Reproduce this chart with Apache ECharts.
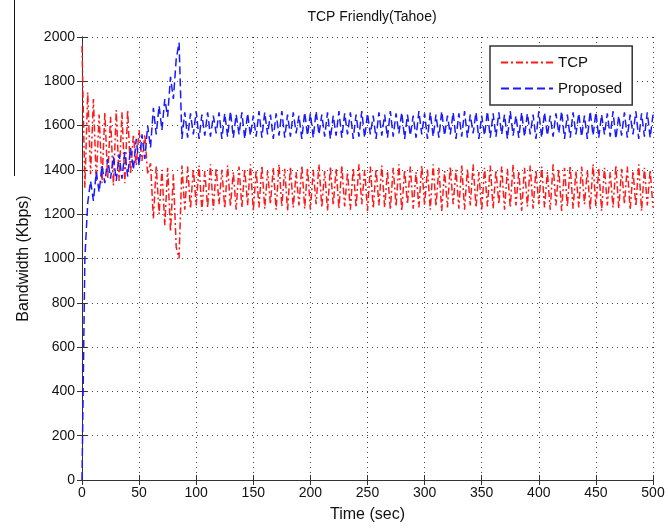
<!DOCTYPE html>
<html>
<head>
<meta charset="utf-8">
<script src="https://cdn.jsdelivr.net/npm/echarts@6/dist/echarts.min.js"></script>
<style>
html,body{margin:0;padding:0;background:#fff;}
#chart{width:668px;height:528px;}
</style>
</head>
<body>
<div id="chart"></div>
<script>
// ---- data (sampled every timeStep seconds from t = 0) ----
const chartTitle = "TCP Friendly(Tahoe)";
const seriesNames = ["TCP", "Proposed"];
const timeStep = 2.5;
const xTicks = [0, 50, 100, 150, 200, 250, 300, 350, 400, 450, 500];
const yTicks = [0, 200, 400, 600, 800, 1000, 1200, 1400, 1600, 1800, 2000];

const tcpValues = [
  1960,1320,1750,1380,1720,1350,1650,1340,1660,1360,1640,1330,1670,1350,1660,1340,1670,1380,1560,1420,
  1580,1440,1560,1380,1430,1180,1420,1200,1400,1150,1410,1120,1380,1050,1000,1420,1220,
  1415,1225,1405,1240,1420,1215,1395,1230,1425,1220,1410,1245,1400,1225,1420,1235,1390,1220,1415,1230,
  1405,1240,1425,1215,1400,1230,1420,1225,1395,1245,1410,1220,1425,1235,1405,1215,1415,1230,1390,1240,
  1420,1225,1410,1220,1400,1245,1425,1230,1395,1215,1415,1240,1405,1225,1420,1235,1390,1220,1410,1230,
  1425,1245,1400,1215,1415,1225,1405,1240,1420,1230,1395,1220,1410,1235,1425,1215,1400,1245,1415,1225,
  1390,1230,1420,1240,1405,1220,1425,1235,1410,1215,1395,1230,1415,1245,1400,1225,1420,1220,1405,1240,
  1425,1230,1390,1215,1410,1235,1420,1225,1400,1245,1415,1220,1405,1230,1425,1240,1395,1215,1410,1235,
  1420,1225,1400,1245,1415,1230,1390,1220,1425,1240,1405,1215,1410,1235,1420,1225,1395,1230,1415,1245,
  1400,1220,1425,1235,1405,1215,1410,1240,1390,1230,1420,1225,1405,1245,
  1415,1220,1395,1235,1425,1215,1410,1240,1400,1230
];

const proposedValues = [
  0,1000,1250,1350,1260,1390,1300,1420,1340,1450,1360,1460,1350,1470,1360,1480,1370,1500,1400,1540,
  1420,1560,1450,1600,1500,1680,1560,1690,1580,1720,1640,1820,1720,1900,1975,1540,1660,
  1545,1655,1560,1665,1540,1650,1555,1660,1550,1645,1565,1660,1540,1655,1550,1665,1545,1650,1560,1660,
  1540,1655,1555,1645,1550,1665,1545,1660,1560,1650,1540,1655,1555,1665,1545,1650,1550,1660,1565,1645,
  1540,1660,1555,1655,1545,1665,1560,1650,1550,1660,1540,1645,1555,1665,1545,1655,1560,1660,1540,1650,
  1550,1665,1545,1655,1560,1645,1540,1660,1555,1650,1545,1665,1550,1655,1565,1660,1540,1650,1555,1645,
  1545,1665,1560,1655,1540,1660,1550,1650,1545,1665,1555,1645,1560,1660,1540,1655,1550,1665,1545,1650,
  1565,1660,1540,1645,1555,1665,1545,1655,1550,1660,1560,1650,1540,1665,1555,1645,1545,1660,1550,1655,
  1560,1650,1540,1665,1545,1660,1555,1645,1550,1655,1565,1665,1540,1650,1545,1660,1560,1655,1550,1645,
  1540,1665,1555,1660,1545,1650,1560,1655,1550,1665,1540,1645,1555,1660,
  1545,1650,1560,1665,1540,1655,1550,1660,1545,1650
];

// ---- chart ----
const toPairs = vals => vals.map((v, i) => [i * timeStep, v]);
const font = "'Liberation Sans', Arial, sans-serif";
const chart = echarts.init(document.getElementById('chart'), null, {renderer: 'canvas'});

const gridLine = {show: true, lineStyle: {color: '#444', width: 1, type: [1, 4]}};
const axLine = {show: true, lineStyle: {color: '#333', width: 1}};
const tickIn = {show: true, inside: true, length: 5, lineStyle: {color: '#333'}};

chart.setOption({
  animation: false,
  backgroundColor: '#fff',
  title: {
    text: chartTitle, left: 367, top: 5, textAlign: 'center',
    textStyle: {fontFamily: font, fontSize: 14, fontWeight: 'normal', color: '#111'}
  },
  grid: {left: 82, right: 15, top: 37, bottom: 47, containLabel: false},
  legend: {
    data: seriesNames,
    orient: 'vertical',
    left: 490, top: 46,
    padding: [9, 10, 9, 10],
    itemGap: 11,
    itemWidth: 52, itemHeight: 14,
    backgroundColor: '#fff',
    borderColor: '#333', borderWidth: 1.5,
    itemStyle: {opacity: 0},
    textStyle: {fontFamily: font, fontSize: 15, color: '#111'}
  },
  xAxis: [{
    type: 'value', min: 0, max: 500, interval: 50,
    name: 'Time (sec)', nameLocation: 'middle', nameGap: 27,
    nameTextStyle: {fontFamily: font, fontSize: 16, color: '#111'},
    axisLabel: {fontFamily: font, fontSize: 14, color: '#111', margin: 6,
      formatter: v => xTicks.includes(v) ? String(v) : ''},
    axisLine: axLine, axisTick: tickIn, splitLine: gridLine
  }, {
    type: 'value', min: 0, max: 500, interval: 50, position: 'top',
    axisLabel: {show: false}, axisLine: axLine, axisTick: tickIn, splitLine: {show: false}
  }],
  yAxis: [{
    type: 'value', min: 0, max: 2000, interval: 200,
    name: 'Bandwidth (Kbps)', nameLocation: 'middle', nameGap: 50,
    nameTextStyle: {fontFamily: font, fontSize: 16, color: '#111'},
    axisLabel: {fontFamily: font, fontSize: 14, color: '#111', margin: 7,
      formatter: v => yTicks.includes(v) ? String(v) : ''},
    axisLine: axLine, axisTick: tickIn, splitLine: gridLine
  }, {
    type: 'value', min: 0, max: 2000, interval: 200, position: 'right',
    axisLabel: {show: false}, axisLine: axLine, axisTick: tickIn, splitLine: {show: false}
  }],
  graphic: [{
    type: 'line', shape: {x1: 14.5, y1: 0, x2: 14.5, y2: 176},
    style: {stroke: '#111', lineWidth: 1}
  }],
  series: [{
    name: seriesNames[0], type: 'line', data: toPairs(tcpValues),
    showSymbol: false, symbol: 'none',
    lineStyle: {color: '#ff1a1a', width: 1.5, type: [7, 3, 2, 3]},
    itemStyle: {color: '#ff1a1a'}
  }, {
    name: seriesNames[1], type: 'line', data: toPairs(proposedValues),
    showSymbol: false, symbol: 'none',
    lineStyle: {color: '#1a1aff', width: 1.5, type: [8, 4]},
    itemStyle: {color: '#1a1aff'}
  }]
});
</script>
</body>
</html>
